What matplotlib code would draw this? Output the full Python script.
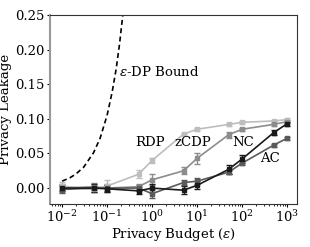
import numpy as np
import matplotlib
matplotlib.use("Agg")
import matplotlib.pyplot as plt

plt.rcParams['font.family'] = 'DejaVu Serif'
plt.rcParams['mathtext.fontset'] = 'dejavuserif'

eps = [0.01, 0.05, 0.1, 0.5, 1, 5, 10, 50, 100, 500, 1000]

rdp = [0.003, -0.002, 0.003, 0.020, 0.040, 0.078, 0.085, 0.092, 0.095, 0.097, 0.099]
rdp_err = [0.006, 0.004, 0.008, 0.006, 0.004, 0.002, 0.002, 0.002, 0.002, 0.002, 0.002]
zcdp = [0.000, 0.002, 0.000, 0.002, 0.012, 0.025, 0.043, 0.077, 0.085, 0.092, 0.096]
zcdp_err = [0.006, 0.005, 0.006, 0.004, 0.008, 0.005, 0.008, 0.004, 0.002, 0.002, 0.002]
nc = [0.000, 0.000, -0.001, -0.004, 0.000, -0.003, 0.004, 0.027, 0.042, 0.080, 0.093]
nc_err = [0.004, 0.006, 0.005, 0.005, 0.006, 0.006, 0.006, 0.006, 0.006, 0.004, 0.003]
ac = [-0.002, 0.000, 0.000, 0.000, -0.008, 0.008, 0.010, 0.023, 0.036, 0.062, 0.072]
ac_err = [0.005, 0.005, 0.004, 0.004, 0.006, 0.004, 0.004, 0.003, 0.003, 0.002, 0.002]

bound_eps = [0.01, 0.015, 0.02, 0.03, 0.05, 0.07, 0.1, 0.13, 0.16, 0.19, 0.22, 0.25]
bound = [0.010, 0.015, 0.020, 0.030, 0.051, 0.072, 0.105, 0.139, 0.173, 0.209, 0.246, 0.284]

fs = 9.5
fig = plt.figure(figsize=(3.1, 2.47), dpi=100)
ax = fig.add_axes([0.161, 0.174, 0.797, 0.765])

ax.plot(bound_eps, bound, 'k--', lw=1.2, dashes=(3, 2))
series = [(rdp, rdp_err, '#bdbdbd'), (zcdp, zcdp_err, '#8c8c8c'),
          (ac, ac_err, '#5a5a5a'), (nc, nc_err, '#1a1a1a')]
for vals, err, col in series:
    ax.errorbar(eps, vals, yerr=err, color=col, lw=1.2, marker='s', ms=2.2,
                capsize=2, elinewidth=1, capthick=1)

ax.text(0.185, 0.168, r'$\epsilon$-DP Bound', fontsize=fs, va='center')
ax.text(0.9, 0.066, 'RDP', fontsize=fs, ha='center', va='center')
ax.text(8, 0.066, 'zCDP', fontsize=fs, ha='center', va='center')
ax.text(105, 0.066, 'NC', fontsize=fs, ha='center', va='center')
ax.text(420, 0.043, 'AC', fontsize=fs, ha='center', va='center')

ax.set_xscale('log')
ax.set_xlim(10**-2.27, 10**3.22)
ax.set_ylim(-0.023, 0.25)
ax.set_yticks([0, 0.05, 0.1, 0.15, 0.2, 0.25])
ax.set_xticks([1e-2, 1e-1, 1, 10, 100, 1000])
ax.tick_params(labelsize=fs, length=2.5, pad=1.5)
ax.tick_params(which='minor', length=1.5)
ax.set_xlabel(r'Privacy Budget ($\epsilon$)', fontsize=fs, labelpad=0.5)
ax.set_ylabel('Privacy Leakage', fontsize=fs, labelpad=2)
ax.spines['left'].set_color('#999999')
ax.spines['left'].set_linewidth(1.5)
for s in ['top', 'right', 'bottom']:
    ax.spines[s].set_color('#333333')

fig.savefig('out.png', dpi=100)
